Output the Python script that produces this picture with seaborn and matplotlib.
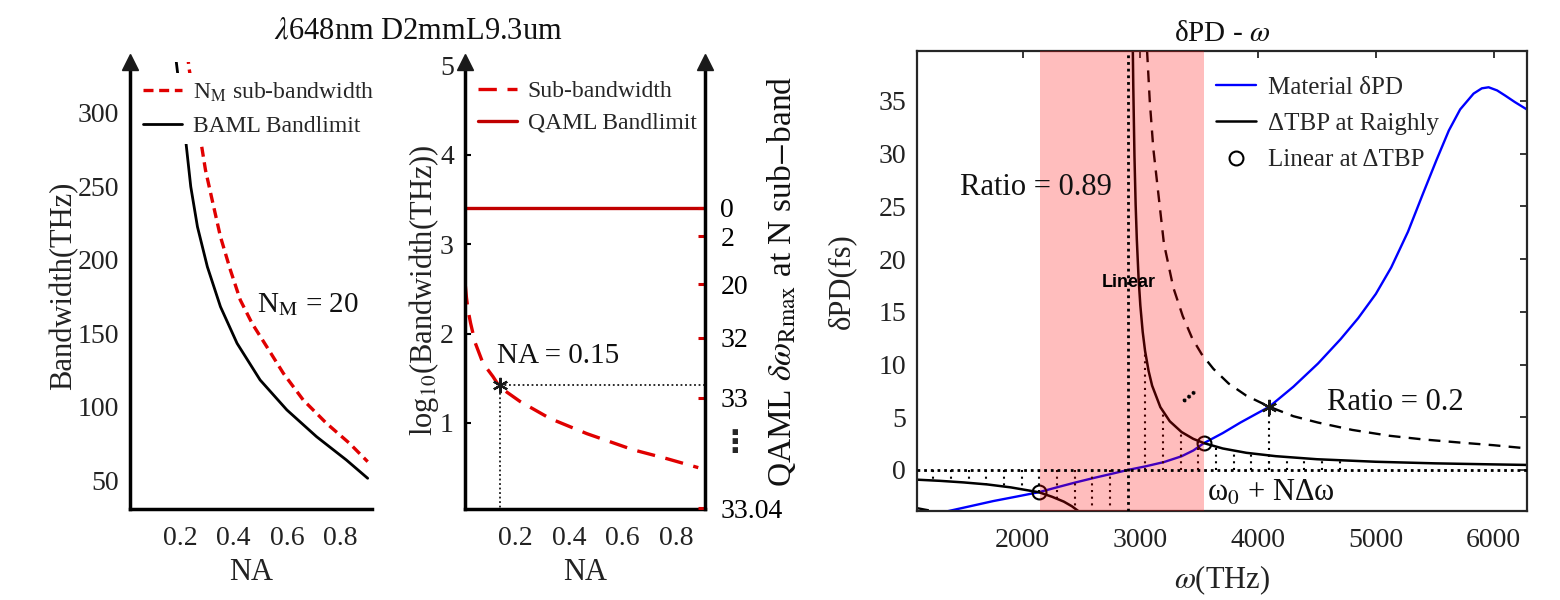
import numpy as np
import matplotlib
matplotlib.use('Agg')
import matplotlib.pyplot as plt
import seaborn as sns

sns.set_theme(style='white')
plt.rcParams['font.family'] = ['Liberation Serif', 'DejaVu Sans']
plt.rcParams['mathtext.fontset'] = 'stix'
plt.rcParams['axes.unicode_minus'] = False

# ---------------- data: panel 1 ----------------
na_baml = [0.185, 0.221, 0.240, 0.265, 0.302, 0.351, 0.413, 0.499, 0.599, 0.710, 0.821, 0.901]
bw_baml = [336, 281.4, 249.7, 222.4, 195.2, 168.0, 143.1, 118.2, 97.8, 79.6, 63.8, 51.3]
na_sub = [0.228, 0.233, 0.277, 0.295, 0.320, 0.351, 0.388, 0.425, 0.469, 0.524, 0.586, 0.660, 0.747, 0.833, 0.901]
bw_sub = [340, 331, 281.4, 261.0, 240.6, 215.6, 193.0, 172.6, 156.7, 140.8, 122.7, 104.6, 88.7, 75.1, 62.6]

# ---------------- data: panel 2 ----------------
na_sub2 = [0.016, 0.020, 0.026, 0.035, 0.052, 0.081, 0.118, 0.144, 0.219, 0.330, 0.467, 0.638, 0.764, 0.880]
logbw_sub2 = [2.53, 2.40, 2.26, 2.12, 1.90, 1.67, 1.52, 1.40, 1.24, 1.05, 0.88, 0.70, 0.60, 0.50]
qaml_limit = 3.41
na_star = 0.145
logbw_star = 1.42
right_tick_vals = [3.41, 3.09, 2.55, 1.955, 1.28, 0.045]
right_tick_labels = ['0', '2', '20', '32', '33', '33.04']

# ---------------- data: panel 3 ----------------
w_mat = [1250, 1368, 1550, 1750, 1950, 2141, 2300, 2450, 2600, 2750, 2893, 3050, 3200, 3350, 3450,
         3540, 3700, 3850, 4095, 4300, 4509, 4700, 4850, 5000, 5130, 5273, 5400, 5515, 5620, 5716,
         5830, 5900, 5958, 6030, 6100, 6180, 6282]
v_mat = [-4.3, -3.9, -3.45, -2.95, -2.52, -2.1, -1.62, -1.18, -0.77, -0.38, 0.0, 0.36, 0.75, 1.3, 1.85,
         2.55, 3.5, 4.5, 6.0, 7.9, 10.1, 12.4, 14.4, 16.7, 19.2, 22.6, 26.2, 29.4, 32.2, 34.2,
         35.7, 36.2, 36.3, 36.0, 35.5, 34.9, 34.2]

w_tbp_left = [1105, 1300, 1500, 1700, 1900, 2050, 2141, 2250, 2350, 2420, 2480, 2520]
v_tbp_left = [-0.92, -1.03, -1.18, -1.37, -1.65, -1.94, -2.12, -2.54, -3.0, -3.45, -3.95, -4.37]
w_tbp_right = [2936, 2940, 2950, 2960, 2970, 2985, 3000, 3020, 3040, 3070, 3100, 3170, 3250, 3350,
               3450, 3540, 3700, 3900, 4150, 4500, 5000, 5500, 6000, 6282]
v_tbp_right = [40.0, 36.4, 29.8, 25.2, 21.9, 18.2, 15.6, 13.1, 11.3, 9.4, 8.0, 5.96, 4.62, 3.60,
               2.95, 2.55, 2.04, 1.63, 1.31, 1.02, 0.78, 0.63, 0.53, 0.48]

w_ratio_left = [1105, 1170, 1240, 1320]
v_ratio_left = [-3.62, -3.76, -3.9, -4.1]
w_ratio_right = [3057, 3080, 3110, 3140, 3170, 3200, 3280, 3360, 3440, 3520, 3620, 3750, 3900, 4095,
                 4300, 4508, 4800, 5112, 5400, 5716, 6000, 6282]
v_ratio_right = [39.8, 35.0, 30.5, 27.5, 24.5, 21.5, 17.3, 14.6, 12.5, 11.0, 9.6, 8.2, 7.05, 6.0,
                 5.1, 4.5, 3.8, 3.25, 2.9, 2.6, 2.35, 2.05]

w_circles = [2141, 3540]
v_circles = [-2.1, 2.55]
w_star, v_star = 4095, 6.0
w_zero = 2893
w_grid_right = [3043, 3193, 3343, 3493, 3643, 3793, 3943, 4093, 4243, 4393, 4543, 4693]
w_grid_left = [2743, 2593, 2443, 2293, 2143, 1993, 1843, 1693, 1543, 1393, 1243]
span_lo, span_hi = 2150, 3542

# ---------------- figure ----------------
W, H = 1560, 600
fig = plt.figure(figsize=(15.6, 6), dpi=100)
TICK = 20


def arrow_axis(ax, x):
    ax.plot([x], [1], marker='^', color='k', markersize=12, transform=ax.transAxes,
            clip_on=False, zorder=10)


# ---- panel 1 ----
ax1 = fig.add_axes([130 / W, 91 / H, 241.7 / W, 447 / H])
sns.lineplot(x=na_sub, y=bw_sub, ax=ax1, color='#E00000', lw=2.4, linestyle=(0, (3.0, 1.7)),
             label=r'N$_\mathrm{M}$ sub-bandwidth', estimator=None, sort=False)
sns.lineplot(x=na_baml, y=bw_baml, ax=ax1, color='black', lw=2.0,
             label='BAML Bandlimit', estimator=None, sort=False)
ax1.set_xlim(0.013, 0.916)
ax1.set_ylim(30.4, 334.5)
ax1.set_xticks([0.2, 0.4, 0.6, 0.8])
ax1.set_xticklabels(['0.2', '0.4', '0.6', '0.8'])
ax1.set_yticks([50, 100, 150, 200, 250, 300])
for s in ['top', 'right']:
    ax1.spines[s].set_visible(False)
for s in ['left', 'bottom']:
    ax1.spines[s].set_linewidth(2.5)
    ax1.spines[s].set_color('black')
ax1.tick_params(axis='y', direction='in', length=4, width=1.5, labelsize=TICK, pad=8,
                colors='black', labelcolor='#222222')
ax1.tick_params(axis='x', direction='in', length=4, width=1.5, labelsize=TICK, pad=12,
                colors='black', labelcolor='#222222')
ax1.set_xlabel('NA', fontsize=22, color='#222222')
ax1.set_ylabel('Bandwidth(THz)', fontsize=22, color='#222222')
ax1.xaxis.set_label_coords(0.5, -0.11)
ax1.yaxis.set_label_coords(-0.215, 0.5)
arrow_axis(ax1, 0)
ax1.text(0.487, 169.2, r'N$_\mathrm{M}$ = 20', fontsize=21, va='center', ha='left', color='#111111')
ax1.legend(loc='upper left', bbox_to_anchor=(0.025, 0.975), borderaxespad=0, fontsize=17,
           frameon=True, facecolor='white', edgecolor='none', framealpha=1, fancybox=False,
           handlelength=1.65, handletextpad=0.45, labelspacing=0.5, borderpad=0.3)

# ---- panel 2 ----
ax2 = fig.add_axes([465 / W, 91 / H, 240 / W, 447 / H])
sns.lineplot(x=na_sub2, y=logbw_sub2, ax=ax2, color='#E00000', lw=2.4, linestyle=(0, (5.5, 3.2)),
             label='Sub-bandwidth', estimator=None, sort=False)
ax2.axhline(qaml_limit, color='#C00000', lw=2.4, label='QAML Bandlimit')
ax2.plot([na_star, 1.0], [logbw_star, logbw_star], color='k', ls=(0, (1, 1.5)), lw=1.3)
ax2.plot([na_star, na_star], [0, logbw_star], color='k', ls=(0, (1, 1.5)), lw=1.3)
ax2.plot([na_star], [logbw_star], marker=(6, 2, 0), color='k', markersize=11, mew=1.6, zorder=6)
ax2.text(0.133, 1.75, 'NA = 0.15', fontsize=21, va='center', ha='left', color='#111111')
ax2.set_xlim(0.0145, 0.905)
ax2.set_ylim(0.037, 5.04)
ax2.set_xticks([0.2, 0.4, 0.6, 0.8])
ax2.set_xticklabels(['0.2', '0.4', '0.6', '0.8'])
ax2.set_yticks([1, 2, 3, 4, 5])
for s in ['top', 'right']:
    ax2.spines[s].set_visible(False)
for s in ['left', 'bottom']:
    ax2.spines[s].set_linewidth(2.5)
    ax2.spines[s].set_color('black')
ax2.tick_params(axis='y', direction='in', length=4, width=1.5, labelsize=TICK, pad=8,
                colors='black', labelcolor='#222222')
ax2.tick_params(axis='x', direction='in', length=4, width=1.5, labelsize=TICK, pad=12,
                colors='black', labelcolor='#222222')
ax2.set_xlabel('NA', fontsize=22, color='#222222')
ax2.set_ylabel(r'log$_{10}$(Bandwidth(THz))', fontsize=22, color='#222222')
ax2.xaxis.set_label_coords(0.5, -0.11)
ax2.yaxis.set_label_coords(-0.098, 0.49)
arrow_axis(ax2, 0)
ax2.legend(loc='upper left', bbox_to_anchor=(0.025, 0.975), borderaxespad=0, fontsize=17,
           frameon=True, facecolor='white', edgecolor='none', framealpha=1, fancybox=False,
           handlelength=1.65, handletextpad=0.45, labelspacing=0.45, borderpad=0.3)

ax2r = ax2.twinx()
ax2r.set_ylim(ax2.get_ylim())
for s in ['top', 'left', 'bottom']:
    ax2r.spines[s].set_visible(False)
ax2r.spines['right'].set_linewidth(2.5)
ax2r.spines['right'].set_color('black')
ax2r.set_yticks(right_tick_vals)
ax2r.set_yticklabels(right_tick_labels)
ax2r.tick_params(axis='y', direction='in', length=5, width=2.2, color='#D00000',
                 labelcolor='black', labelsize=TICK, pad=11)
ax2r.text(1.125, 0.775, '⋮', transform=ax2r.get_yaxis_transform(), fontsize=22, fontweight='bold',
          family='DejaVu Sans', ha='center', va='center')
ax2r.set_ylabel(r'QAML $\delta\omega_{\mathrm{Rmax}}$ at N sub$-$band', fontsize=24, color='#111111')
ax2r.yaxis.set_label_coords(1.25, 0.51)
arrow_axis(ax2r, 1)

fig.text(418 / W, 1 - 31 / H, r'$\lambda$648nm D2mmL9.3um', fontsize=22, ha='center', va='center',
         color='#111111')

# ---- panel 3 ----
ax3 = fig.add_axes([917.2 / W, 89 / H, 609.6 / W, 460 / H])
sns.lineplot(x=w_mat, y=v_mat, ax=ax3, color='#0000FF', lw=1.7, label='Material δPD',
             estimator=None, sort=False)
sns.lineplot(x=w_tbp_right, y=v_tbp_right, ax=ax3, color='black', lw=1.8, label='ΔTBP at Raighly',
             estimator=None, sort=False)
sns.lineplot(x=w_tbp_left, y=v_tbp_left, ax=ax3, color='black', lw=1.8,
             estimator=None, sort=False)
sns.lineplot(x=w_ratio_right, y=v_ratio_right, ax=ax3, color='black', lw=1.7, linestyle=(0, (5, 3.5)),
             estimator=None, sort=False)
sns.lineplot(x=w_ratio_left, y=v_ratio_left, ax=ax3, color='black', lw=1.7, linestyle=(0, (5, 3.5)),
             estimator=None, sort=False)
for ln in ax3.get_lines():
    ln.set_zorder(2)
ax3.plot(w_circles, v_circles, 'o', mfc='none', mec='black', ms=10, mew=1.5, zorder=2,
         label='Linear at ΔTBP')

h_right = np.interp(w_grid_right, w_tbp_right, v_tbp_right)
h_left = np.interp(w_grid_left[::-1], w_tbp_left, v_tbp_left)[::-1]
ax3.vlines(w_grid_right, 0, h_right, colors='black', linestyles=(0, (1, 2.2)), lw=1.5, zorder=2)
ax3.vlines(w_grid_left, 0, h_left, colors='black', linestyles=(0, (1, 2.2)), lw=1.5, zorder=2)
ax3.vlines([w_star], 0, [v_star], colors='black', linestyles=(0, (1, 2.2)), lw=1.5, zorder=2)
ax3.plot([w_star], [v_star], marker=(6, 2, 0), color='k', markersize=11, mew=1.6, zorder=5)

ax3.axvspan(span_lo, span_hi, color='#FF0000', alpha=0.26, lw=0, zorder=3)
ax3.axhline(0, color='black', ls=(0, (1, 1.4)), lw=2.0, zorder=4)
ax3.axvline(w_zero, color='black', ls=(0, (1, 1.4)), lw=2.0, zorder=4)

ax3.text(1469, 26.8, 'Ratio = 0.89', fontsize=22, va='center', ha='left', color='#111111', zorder=6)
ax3.text(4589, 6.4, 'Ratio = 0.2', fontsize=22, va='center', ha='left', color='#111111', zorder=6)
ax3.text(3562, -2.2, r'ω$_0$ + NΔω', fontsize=22, va='center', ha='left', color='#111111', zorder=6)
ax3.text(2903, 17.8, 'Linear', fontsize=13, fontweight='bold', family='Liberation Sans',
         va='center', ha='center', color='black', zorder=6)
ax3.text(3400, 7.3, '...', fontsize=17, fontweight='bold', rotation=40, va='center', ha='center',
         color='black', zorder=6)

ax3.set_xlim(1105, 6282)
ax3.set_ylim(-3.89, 39.74)
ax3.set_xticks([2000, 3000, 4000, 5000, 6000])
ax3.set_xticklabels(['2000', '3000', '4000', '5000', '6000'])
ax3.set_yticks([0, 5, 10, 15, 20, 25, 30, 35])
for s in ax3.spines.values():
    s.set_linewidth(1.6)
    s.set_color('#262626')
ax3.tick_params(axis='y', direction='in', length=5, width=1.3, right=True, labelsize=TICK, pad=8,
                colors='#262626', labelcolor='#222222')
ax3.tick_params(axis='x', direction='in', length=5, width=1.3, top=True, labelsize=TICK, pad=12,
                colors='#262626', labelcolor='#222222')
ax3.set_xlabel(r'$\omega$(THz)', fontsize=22, color='#222222')
ax3.set_ylabel('δPD(fs)', fontsize=22, color='#222222')
ax3.xaxis.set_label_coords(0.5, -0.113)
ax3.yaxis.set_label_coords(-0.10, 0.5)
ax3.set_title(r'δPD - $\omega$', fontsize=21, color='#111111', pad=7)
h, l = ax3.get_legend_handles_labels()
ax3.legend(h, l, loc='upper left', bbox_to_anchor=(0.49, 0.945), borderaxespad=0, borderpad=0,
           fontsize=18, frameon=False, handlelength=1.6, handletextpad=0.5, labelspacing=0.55)

fig.savefig('out.png', dpi=100)
